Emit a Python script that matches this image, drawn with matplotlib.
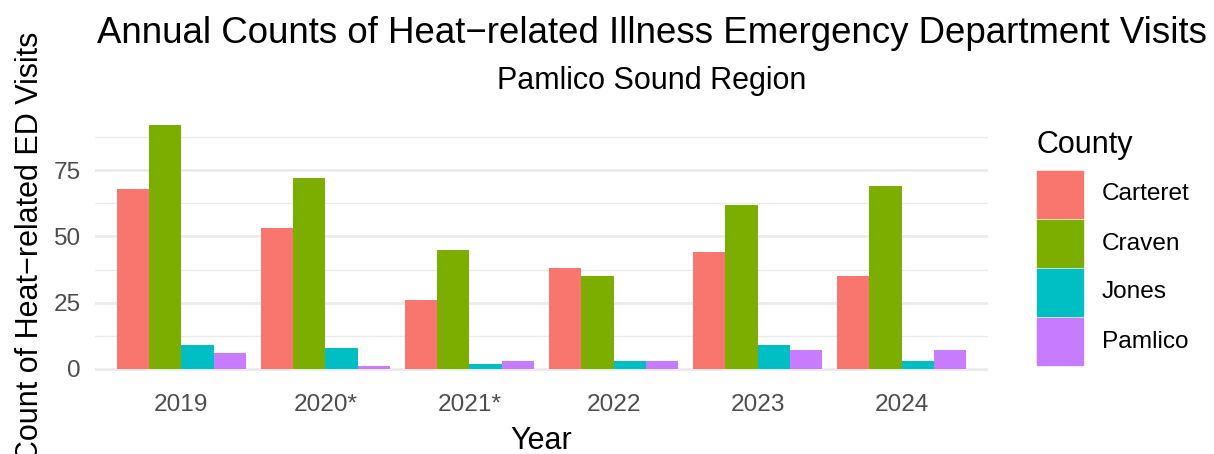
import matplotlib
matplotlib.use("Agg")
import matplotlib.pyplot as plt
from matplotlib.patches import Rectangle
import numpy as np

years = ["2019", "2020*", "2021*", "2022", "2023", "2024"]
counties = ["Carteret", "Craven", "Jones", "Pamlico"]
carteret = [68, 53, 26, 38, 44, 35]
craven = [92, 72, 45, 35, 62, 69]
jones = [9, 8, 2, 3, 9, 3]
pamlico = [6, 1, 3, 3, 7, 7]
colors = ["#F8766D", "#7CAE00", "#00BFC4", "#C77CFF"]

plt.rcParams['font.family'] = ['Liberation Sans', 'DejaVu Sans']

W, H = 1214, 454
fig = plt.figure(figsize=(W / 100, H / 100), dpi=100)
L, R, T, B = 95, 988, 113, 381
ax = fig.add_axes([L / W, 1 - B / H, (R - L) / W, (B - T) / H])


def fx(px):
    return px / W


def fy(py):
    return 1 - py / H


series = [carteret, craven, jones, pamlico]
x = np.arange(1, len(years) + 1)
bw = 0.9 / 4
for i, (vals, c) in enumerate(zip(series, colors)):
    ax.bar(x + (i - 1.5) * bw, vals, width=bw, color=c, label=counties[i], zorder=3)

ax.set_xlim(0.4, len(years) + 0.6)
ymax = max(max(s) for s in series)
ax.set_ylim(-0.05 * ymax, ymax * 1.05)
ax.set_yticks([0, 25, 50, 75])
ax.set_yticks([12.5, 37.5, 62.5, 87.5], minor=True)
ax.set_xticks(x)
ax.set_xticklabels(years)
ax.grid(axis='y', which='major', color='#EBEBEB', linewidth=2.0, zorder=0)
ax.grid(axis='y', which='minor', color='#EBEBEB', linewidth=1.0, zorder=0)
ax.grid(axis='x', which='major', visible=False)
for s in ax.spines.values():
    s.set_visible(False)
ax.tick_params(axis='both', which='both', length=0, labelsize=17.6, colors='#4D4D4D')
ax.tick_params(axis='y', pad=10.5)
ax.tick_params(axis='x', pad=9.5)

# axis titles
fig.text(fx(30), fy((T + B) / 2), "Count of Heat\u2212related ED Visits", rotation=90,
         ha='center', va='center', fontsize=22)
fig.text(fx((L + R) / 2), fy(449), "Year", ha='center', va='baseline', fontsize=22)

# titles
fig.text(fx(652), fy(43), "Annual Counts of Heat\u2212related Illness Emergency Department Visits",
         ha='center', va='baseline', fontsize=26.4)
fig.text(fx(652), fy(89), "Pamlico Sound Region", ha='center', va='baseline', fontsize=22)

# legend
fig.text(fx(1037), fy(153), "County", ha='left', va='baseline', fontsize=22)
for i, (name, c) in enumerate(zip(counties, colors)):
    top = 171 + 49 * i
    fig.patches.append(Rectangle((fx(1037), fy(top + 47)), 46 / W, 47 / H, color=c,
                                 transform=fig.transFigure, figure=fig))
    fig.text(fx(1102), fy(top + 23.5), name, ha='left', va='center', fontsize=17.6)

fig.savefig("out.png", dpi=100)
